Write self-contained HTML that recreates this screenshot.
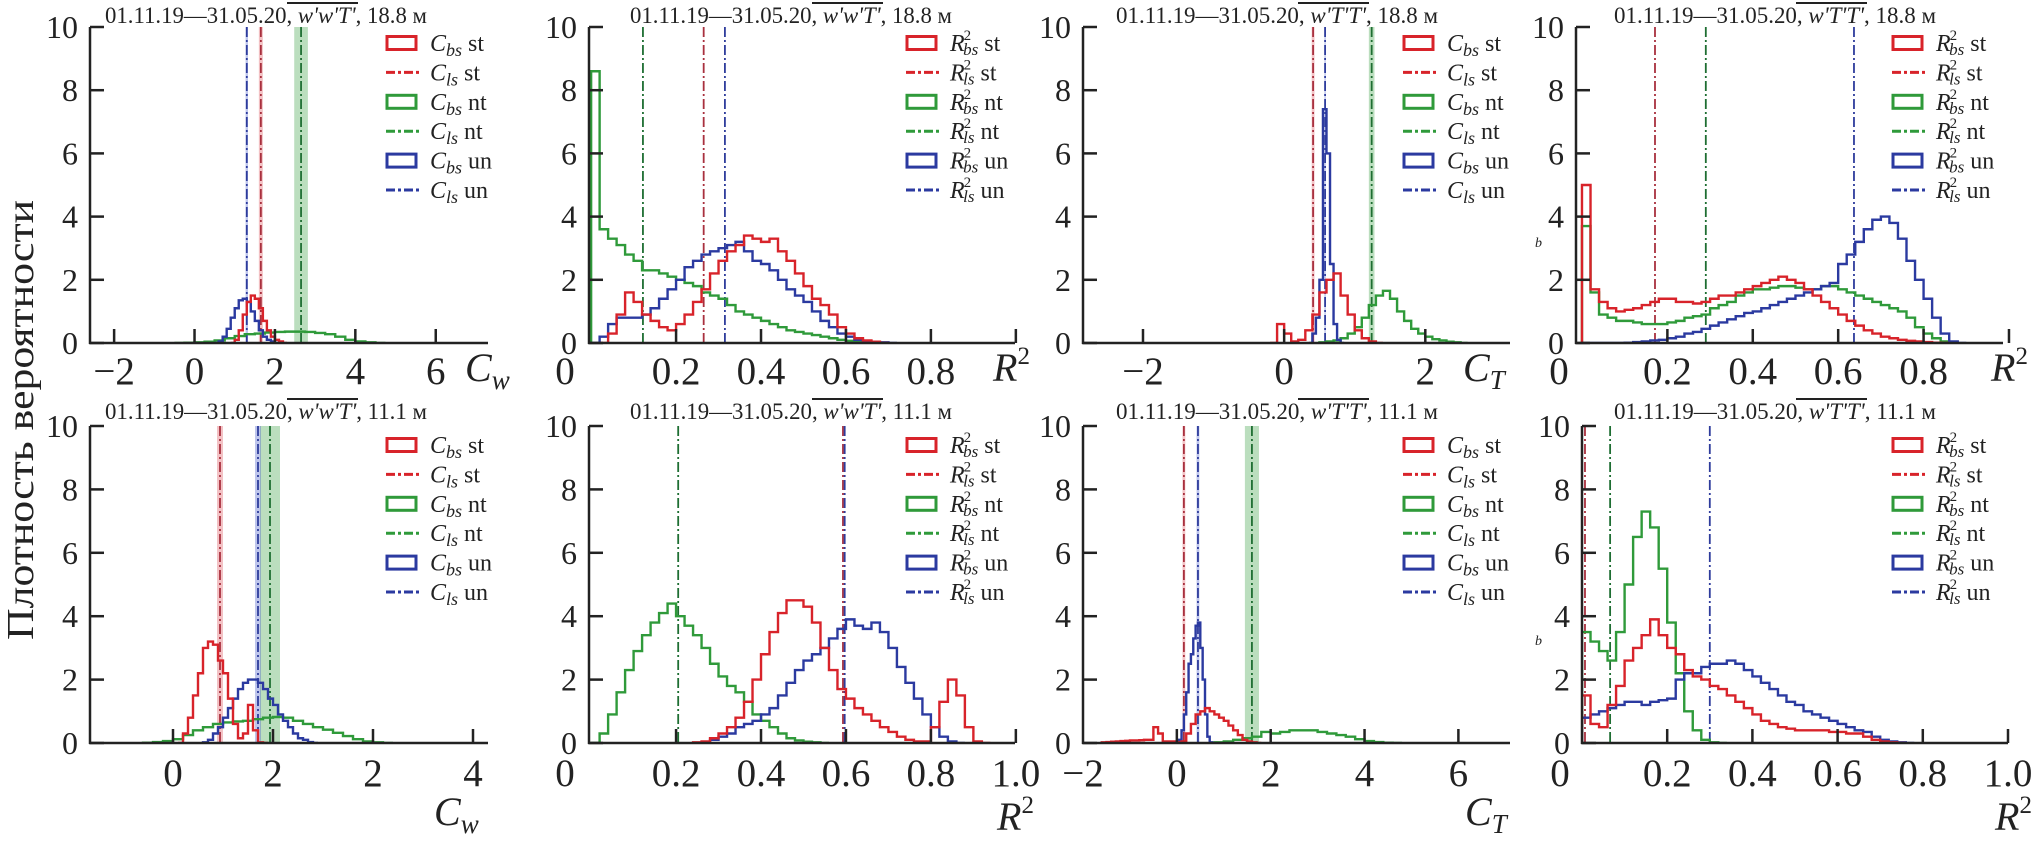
<!DOCTYPE html>
<html><head><meta charset="utf-8">
<style>
html,body{margin:0;padding:0;background:#fff;}
#wrap{position:relative;width:2033px;height:845px;overflow:hidden;font-family:"Liberation Serif",serif;}
svg{position:absolute;left:0;top:0;}
svg text{font-family:"Liberation Serif",serif;}
</style></head>
<body>
<div id="wrap">
<svg id="svg" width="2033" height="845"></svg>
</div>
<script>
// ---------- DATA ----------
const A_st = [0,0.1,0.4,0.9,1.3,1.5,1.4,1.1,0.7,0.4,0.2,0.1,0.05,0]; const A_st0 = 0.9, A_stb = 0.1;
const A_nt = [0,0.01,0.02,0.04,0.08,0.15,0.22,0.28,0.3,0.33,0.35,0.36,0.36,0.35,0.32,0.28,0.2,0.1,0.05,0.02,0]; const A_nt0 = -0.5, A_ntb = 0.25;
const A_un = [0,0.05,0.2,0.45,0.8,1.1,1.35,1.4,1.3,1.0,0.7,0.4,0.2,0.1,0.05,0]; const A_un0 = 0.5, A_unb = 0.1;
const A_lines = [1.65, 2.65, 1.3]; const A_bands = [0.05, 0.17, 0.03];
const B_st = [0,0.3,0.9,1.6,1.3,0.9,0.7,0.5,0.4,0.6,0.9,1.3,1.7,2.2,2.6,2.9,3.1,3.4,3.3,3.2,3.3,2.9,2.6,2.2,1.8,1.4,1.2,0.9,0.5,0.3,0.15,0.08,0.04,0]; const B_st0 = 0.02, B_stb = 0.02;
const B_nt = [8.6,3.6,3.3,3.1,2.8,2.6,2.3,2.3,2.2,2.1,2.0,1.9,1.8,1.6,1.5,1.4,1.2,1.0,0.9,0.8,0.7,0.6,0.5,0.4,0.35,0.3,0.25,0.2,0.15,0.1,0.07,0.04,0.02,0]; const B_nt0 = 0, B_ntb = 0.02;
const B_un = [0,0.2,0.6,0.8,0.8,0.8,0.9,1.1,1.4,1.7,2.0,2.4,2.6,2.8,2.9,3.0,3.1,3.2,2.9,2.6,2.5,2.3,2.0,1.7,1.5,1.3,1.0,0.7,0.5,0.3,0.2,0.1,0.05,0.03,0.02,0]; const B_un0 = 0, B_unb = 0.02;
const B_lines = [0.265, 0.122, 0.315]; const B_bands = [0, 0, 0];
const C_st = [0,0.6,0.3,0.05,0.1,0.4,0.9,1.6,2.0,2.2,1.5,0.9,0.4,0.15,0.05,0]; const C_st0 = -0.2, C_stb = 0.1;
const C_nt = [0.02,0.05,0.08,0.15,0.3,0.5,0.8,1.2,1.5,1.65,1.4,1.0,0.7,0.45,0.3,0.2,0.12,0.08,0.04,0.02,0]; const C_nt0 = 0.5, C_ntb = 0.1;
const C_un = [0,0.3,0.8,2.0,7.4,6.0,2.5,0.6,0.1,0]; const C_un0 = 0.35, C_unb = 0.05;
const C_lines = [0.41, 1.24, 0.58]; const C_bands = [0.02, 0.04, 0.01];
const D_st = [5.0,1.7,1.3,1.1,1.0,1.05,1.1,1.2,1.3,1.4,1.4,1.3,1.3,1.25,1.3,1.4,1.5,1.5,1.6,1.7,1.8,1.9,2.0,2.1,2.0,1.9,1.7,1.5,1.3,1.1,0.9,0.7,0.55,0.4,0.3,0.2,0.15,0.1,0.07,0.05,0.03,0.01,0]; const D_st0 = 0, D_stb = 0.02;
const D_nt = [3.7,1.6,0.9,0.8,0.7,0.7,0.65,0.6,0.6,0.6,0.65,0.7,0.8,0.85,0.9,1.1,1.2,1.3,1.5,1.6,1.7,1.7,1.75,1.8,1.8,1.75,1.7,1.7,1.8,1.8,1.7,1.6,1.5,1.4,1.3,1.2,1.1,1.0,0.8,0.5,0.3,0.15,0.05,0]; const D_nt0 = 0, D_ntb = 0.02;
const D_un = [0,0,0,0,0,0.01,0.03,0.05,0.08,0.1,0.15,0.2,0.3,0.35,0.45,0.55,0.65,0.75,0.85,0.95,1.0,1.1,1.2,1.3,1.4,1.5,1.6,1.7,1.8,1.9,2.5,2.8,3.2,3.6,3.9,4.0,3.8,3.3,2.6,2.0,1.4,0.8,0.3,0.05,0]; const D_un0 = 0, D_unb = 0.02;
const D_lines = [0.171, 0.29, 0.637]; const D_bands = [0, 0, 0];
const E_st = [0,0.3,0.8,1.5,2.2,3.0,3.2,3.1,2.6,2.2,1.4,0.6,0.15,0.3,1.2,0.4,0.02,0]; const E_st0 = 0.05, E_stb = 0.05;
const E_nt = [0.01,0.03,0.06,0.12,0.25,0.4,0.5,0.6,0.65,0.68,0.7,0.75,0.8,0.82,0.8,0.7,0.6,0.5,0.42,0.32,0.22,0.12,0.05,0.02,0]; const E_nt0 = -0.3, E_ntb = 0.1;
const E_un = [0.02,0.1,0.3,0.5,0.8,1.1,1.4,1.7,1.9,2.0,2.0,1.9,1.7,1.4,1.2,0.9,0.7,0.5,0.3,0.15,0.1,0.03,0]; const E_un0 = 0.3, E_unb = 0.05;
const E_lines = [0.47, 0.97, 0.85]; const E_bands = [0.03, 0.1, 0.03];
const F_st = [0.02,0.05,0.15,0.3,0.5,0.8,1.3,2.0,2.8,3.5,4.1,4.5,4.5,4.3,3.8,3.0,2.3,1.7,1.4,1.1,0.9,0.7,0.5,0.35,0.2,0.1,0.05,0.05,0.5,1.3,2.0,1.5,0.5,0.05,0]; const F_st0 = 0.24, F_stb = 0.02;
const F_nt = [0,0.3,0.9,1.6,2.3,2.9,3.4,3.8,4.1,4.4,4.0,3.7,3.4,3.0,2.5,2.1,1.8,1.6,1.3,0.9,0.7,0.5,0.3,0.15,0.08,0.04,0.02,0]; const F_nt0 = 0, F_ntb = 0.02;
const F_un = [0.02,0.1,0.2,0.3,0.5,0.6,0.7,0.9,1.1,1.5,1.9,2.3,2.6,2.8,3.0,3.3,3.6,3.9,3.7,3.6,3.8,3.5,3.0,2.4,1.9,1.4,0.9,0.5,0.2,0.05,0]; const F_un0 = 0.26, F_unb = 0.02;
const F_lines = [0.593, 0.205, 0.597]; const F_bands = [0, 0, 0];
const G_st = [0.02,0.03,0.04,0.05,0.06,0.07,0.08,0.08,0.09,0.1,0.1,0.5,0.3,0.05,0.05,0.05,0.02,0.05,0.3,0.6,0.9,1.0,1.1,1.0,0.9,0.8,0.7,0.55,0.4,0.25,0.1,0.05,0.02,0]; const G_st0 = -1.6, G_stb = 0.1;
const G_nt = [0.02,0.05,0.1,0.15,0.2,0.35,0.3,0.35,0.4,0.4,0.4,0.35,0.3,0.25,0.2,0.12,0.06,0.03,0.01,0]; const G_nt0 = 0.8, G_ntb = 0.2;
const G_un = [0.1,0.4,0.9,1.6,2.5,2.8,3.3,3.7,3.8,3.0,2.0,0.9,0.2,0.02,0]; const G_un0 = 0.05, G_unb = 0.05;
const G_lines = [0.15, 1.6, 0.45]; const G_bands = [0.03, 0.15, 0.03];
const H_st = [1.5,0.6,0.5,1.2,1.8,2.6,3.0,3.4,3.9,3.4,3.0,2.8,2.3,2.1,2.0,1.8,1.7,1.5,1.3,1.1,0.9,0.7,0.6,0.5,0.45,0.4,0.4,0.4,0.4,0.35,0.35,0.3,0.3,0.2,0.1,0.05,0.02,0]; const H_st0 = 0, H_stb = 0.02;
const H_nt = [3.5,3.2,2.9,2.6,3.5,5.0,6.5,7.3,6.8,5.5,3.8,2.2,1.0,0.4,0.1,0.02,0]; const H_nt0 = 0, H_ntb = 0.02;
const H_un = [0.8,0.9,1.0,1.1,1.2,1.3,1.3,1.2,1.3,1.35,1.4,2.0,2.2,2.2,2.4,2.5,2.5,2.6,2.5,2.3,2.1,1.9,1.7,1.5,1.3,1.2,1.0,0.9,0.8,0.7,0.6,0.5,0.4,0.35,0.2,0.1,0.05,0.02,0]; const H_un0 = 0, H_unb = 0.02;
const H_lines = [0.007, 0.066, 0.30]; const H_bands = [0, 0, 0];

const yTicks = [0,2,4,6,8,10];
const yTickLabels = ["0","2","4","6","8","10"];
const ticksCw18 = [-2,0,2,4,6]; const labelsCw18 = ["\u22122","0","2","4","6"];
const ticksR2top = [0.2,0.4,0.6,0.8,1.0]; const labelsR2top = ["0.2","0.4","0.6","0.8",""];
const ticksCT18 = [-2,0,2]; const labelsCT18 = ["\u22122","0","2"];
const ticksCw11 = [0,1,2,3]; const labelsCw11 = ["0","2","2","4"];
const ticksR2bot = [0.2,0.4,0.6,0.8,1.0]; const labelsR2bot = ["0.2","0.4","0.6","0.8","1.0"];
const ticksCT11 = [0,2,4,6]; const labelsCT11 = ["0","2","4","6"];

// ---------- LAYOUT ----------
const RED='#d8232a', GRN='#2f9a3a', BLU='#2b3aa0';
const LRED='#a8303e', LGRN='#1e6e32', LBLU='#2e3c9c';
const BRED='rgba(220,80,90,0.35)', BGRN='rgba(60,160,70,0.35)', BBLU='rgba(70,90,200,0.35)';
const panels = [
 {id:'A',st:[A_st,A_st0,A_stb],nt:[A_nt,A_nt0,A_ntb],un:[A_un,A_un0,A_unb],lines:A_lines,bands:A_bands,ax:90,px1:488,xmin:-2.6,xmax:7.3,top:27,bot:343,ticks:ticksCw18,labels:labelsCw18,zero:false,kind:'C',title:"w'w'T'",h:"18.8",cx:266,ttlY:23,lgx:387,lgy:43,xt:'w',xtX:465,xtY:381,lblY:384},
 {id:'B',st:[B_st,B_st0,B_stb],nt:[B_nt,B_nt0,B_ntb],un:[B_un,B_un0,B_unb],lines:B_lines,bands:B_bands,ax:589,px1:1015,xmin:-0.005,xmax:0.998,top:27,bot:343,ticks:ticksR2top,labels:labelsR2top,zero:true,zx:565,kind:'R',title:"w'w'T'",h:"18.8",cx:791,ttlY:23,lgx:907,lgy:43,xt:'R',xtX:993,xtY:381,lblY:384},
 {id:'C',st:[C_st,C_st0,C_stb],nt:[C_nt,C_nt0,C_ntb],un:[C_un,C_un0,C_unb],lines:C_lines,bands:C_bands,ax:1083,px1:1510,xmin:-2.85,xmax:3.2,top:27,bot:343,ticks:ticksCT18,labels:labelsCT18,zero:false,kind:'C',title:"w'T'T'",h:"18.8",cx:1277,ttlY:23,lgx:1404,lgy:43,xt:'T',xtX:1463,xtY:381,lblY:384},
 {id:'D',st:[D_st,D_st0,D_stb],nt:[D_nt,D_nt0,D_ntb],un:[D_un,D_un0,D_unb],lines:D_lines,bands:D_bands,ax:1576,px1:2003,xmin:-0.014,xmax:0.986,top:27,bot:343,ticks:ticksR2top,labels:labelsR2top,zero:true,zx:1559,kind:'R',title:"w'T'T'",h:"18.8",cx:1775,ttlY:23,lgx:1893,lgy:43,xt:'R',xtX:1991,xtY:381,lblY:384},
 {id:'E',st:[E_st,E_st0,E_stb],nt:[E_nt,E_nt0,E_ntb],un:[E_un,E_un0,E_unb],lines:E_lines,bands:E_bands,ax:90,px1:488,xmin:-0.83,xmax:3.15,top:426,bot:743,ticks:ticksCw11,labels:labelsCw11,zero:false,kind:'C',title:"w'w'T'",h:"11.1",cx:266,ttlY:419,lgx:387,lgy:445,xt:'w',xtX:434,xtY:825,lblY:786},
 {id:'F',st:[F_st,F_st0,F_stb],nt:[F_nt,F_nt0,F_ntb],un:[F_un,F_un0,F_unb],lines:F_lines,bands:F_bands,ax:589,px1:1015,xmin:-0.005,xmax:0.998,top:426,bot:743,ticks:ticksR2bot,labels:labelsR2bot,zero:true,zx:565,kind:'R',title:"w'w'T'",h:"11.1",cx:791,ttlY:419,lgx:907,lgy:445,xt:'R',xtX:997,xtY:830,lblY:786},
 {id:'G',st:[G_st,G_st0,G_stb],nt:[G_nt,G_nt0,G_ntb],un:[G_un,G_un0,G_unb],lines:G_lines,bands:G_bands,ax:1083,px1:1510,xmin:-2.0,xmax:7.1,top:426,bot:743,ticks:ticksCT11,labels:labelsCT11,zero:true,zx:1083,zl:"\u22122",kind:'C',title:"w'T'T'",h:"11.1",cx:1277,ttlY:419,lgx:1404,lgy:445,xt:'T',xtX:1465,xtY:825,lblY:786},
 {id:'H',st:[H_st,H_st0,H_stb],nt:[H_nt,H_nt0,H_ntb],un:[H_un,H_un0,H_unb],lines:H_lines,bands:H_bands,ax:1582,px1:2008,xmin:0,xmax:1.0,top:426,bot:743,ticks:ticksR2bot,labels:labelsR2bot,zero:true,zx:1560,kind:'R',title:"w'T'T'",h:"11.1",cx:1775,ttlY:419,lgx:1893,lgy:445,xt:'R',xtX:1995,xtY:830,lblY:786}
];

const NS='http://www.w3.org/2000/svg';
const svg=document.getElementById('svg');
function mk(tag,attrs,parent){const e=document.createElementNS(NS,tag);for(const k in attrs)e.setAttribute(k,attrs[k]);(parent||svg).appendChild(e);return e;}

const yl=mk('text',{x:0,y:0,transform:'translate(33,420) rotate(-90)','text-anchor':'middle','font-size':38,fill:'#222',textLength:440,lengthAdjust:'spacingAndGlyphs'});


yl.textContent='Плотность вероятности';

panels.forEach((p,pi)=>{
  const g=mk('g',{});
  
  
  const sx=v=>p.ax+(v-p.xmin)/(p.xmax-p.xmin)*(p.px1-p.ax);
  const sy=v=>p.bot-(v/10)*(p.bot-p.top);
  const cid='clip'+p.id;
  const cp=mk('clipPath',{id:cid},g);
  mk('rect',{x:p.ax,y:p.top-2,width:p.px1-p.ax,height:p.bot-p.top+2},cp);
  const plot=mk('g',{'clip-path':'url(#'+cid+')'},g);
  const lc=[LRED,LGRN,LBLU], bc=[BRED,BGRN,BBLU], nm=['st','nt','un'];
  p.lines.forEach((v,i)=>{
    if(p.bands[i]>0){
      const b=mk('rect',{x:sx(v-p.bands[i]),y:p.top,width:sx(v+p.bands[i])-sx(v-p.bands[i]),height:p.bot-p.top,fill:bc[i]},plot);
      
      
    }
  });
  p.lines.forEach((v,i)=>{
    const l=mk('line',{x1:sx(v),x2:sx(v),y1:p.top,y2:p.bot,stroke:lc[i],'stroke-width':1.8,'stroke-dasharray':'10,3,2,3'},plot);
    
    
  });
  [['nt',p.nt,GRN],['un',p.un,BLU],['st',p.st,RED]].forEach(([n,s,c])=>{
    const [vals,start,bin]=s;
    let d='M'+sx(start)+','+sy(0);
    vals.forEach((v,i)=>{d+='L'+sx(start+i*bin)+','+sy(v)+'L'+sx(start+(i+1)*bin)+','+sy(v);});
    d+='L'+sx(start+vals.length*bin)+','+sy(0);
    const path=mk('path',{d:d,fill:'none',stroke:c,'stroke-width':2.4},plot);
    
    
  });
  const axg=mk('g',{stroke:'#222','stroke-width':2.5},g);
  
  
  mk('line',{x1:p.ax,x2:p.ax,y1:p.top,y2:p.bot+1},axg);
  mk('line',{x1:p.ax-1,x2:p.px1,y1:p.bot,y2:p.bot},axg);
  yTicks.forEach((t,i)=>{
    mk('line',{x1:p.ax,x2:p.ax+14,y1:sy(t),y2:sy(t)},axg);
    const tl=mk('text',{x:p.ax-12,y:sy(t)+11,'text-anchor':'end','font-size':32,fill:'#222'},g);
    
    
    tl.textContent=yTickLabels[i];
  });
  p.ticks.forEach((t,i)=>{
    mk('line',{x1:sx(t),x2:sx(t),y1:p.bot,y2:p.bot-14},axg);
    if(p.labels[i]){
      const tl=mk('text',{x:sx(t),y:p.lblY,'text-anchor':'middle','font-size':39,fill:'#222'},g);
      
      
      tl.textContent=p.labels[i];
    }
  });
  if(p.zero){
    const zl=mk('text',{x:p.zx,y:p.lblY,'text-anchor':'middle','font-size':39,fill:'#222'},g);
    
    
    zl.textContent=p.zl||'0';
  }
  const xt=mk('text',{x:p.xtX,y:p.xtY,'font-size':40,fill:'#222','font-style':'italic'},g);
  
  
  if(p.xt==='R'){xt.innerHTML='R<tspan font-size="25" font-style="normal" dy="-17">2</tspan>';}
  else{xt.innerHTML='C<tspan font-size="27" dy="8">'+p.xt+'</tspan>';}
  const lg=mk('g',{},g);
  
  
  const cols=[RED,RED,GRN,GRN,BLU,BLU], labs=['st','st','nt','nt','un','un'];
  for(let i=0;i<6;i++){
    const cy=p.lgy+i*29.4;
    const e=mk('g',{},lg);
    
    
    if(i%2===0) mk('rect',{x:p.lgx,y:cy-6.5,width:29,height:13,fill:'none',stroke:cols[i],'stroke-width':3},e);
    else mk('line',{x1:p.lgx-1,x2:p.lgx+32,y1:cy,y2:cy,stroke:cols[i],'stroke-width':3,'stroke-dasharray':'9,3,3,3'},e);
    const sub=(i%2===0)?'bs':'ls';
    const t=mk('text',{x:p.lgx+43,y:cy+8,'font-size':24,fill:'#222'},e);
    if(p.kind==='C') t.innerHTML='<tspan font-style="italic">C</tspan><tspan font-style="italic" font-size="18" dy="5">'+sub+'</tspan><tspan dy="-5"> '+labs[i]+'</tspan>';
    else t.innerHTML='<tspan font-style="italic">R</tspan><tspan font-size="15" dy="-11" dx="-1">2</tspan><tspan font-style="italic" font-size="17" dx="-8" dy="15">'+sub+'</tspan><tspan dy="-4"> '+labs[i]+'</tspan>';
  }
  // title
  const tt=mk('text',{x:p.cx,y:p.ttlY,'text-anchor':'middle','font-size':23,fill:'#222',textLength:322,lengthAdjust:'spacingAndGlyphs'},g);
  
  
  tt.innerHTML='01.11.19\u201431.05.20, <tspan font-style="italic">'+p.title+'</tspan>, '+p.h+' м';
  const ol=mk('line',{x1:p.cx+21,x2:p.cx+92,y1:p.ttlY-20,y2:p.ttlY-20,stroke:'#222','stroke-width':2},g);
  
  
  if(p.id==='D'||p.id==='H'){
    const bm=mk('text',{x:1535,y:p.id==='D'?247:645,'font-size':14,'font-style':'italic',fill:'#222'},g);
    
    
    bm.textContent='b';
  }
});
</script>
</body></html>
